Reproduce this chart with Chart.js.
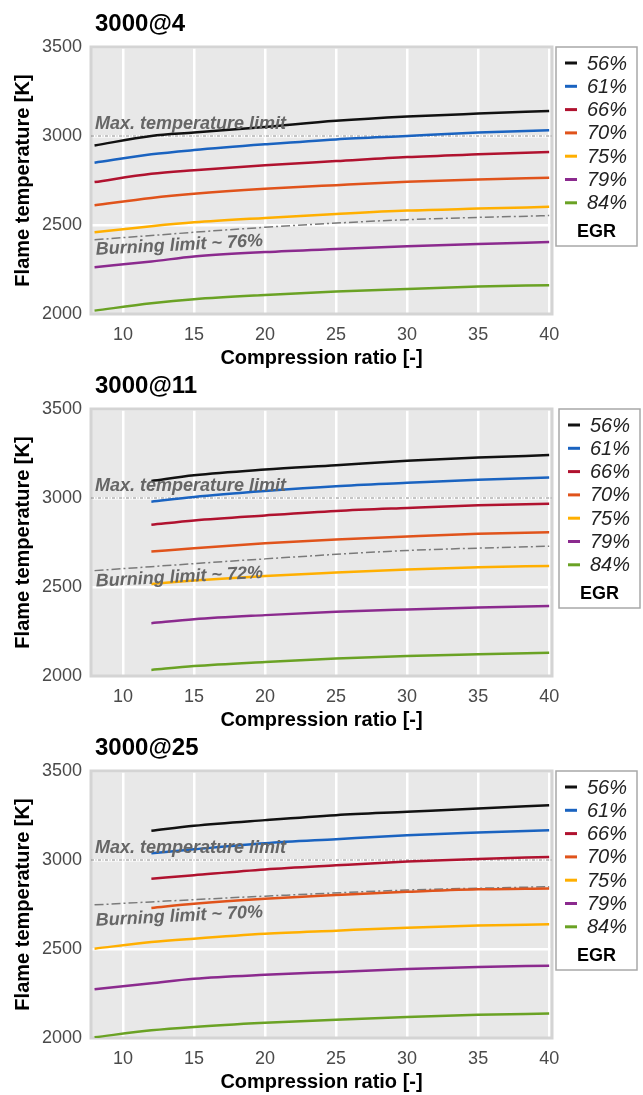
<!DOCTYPE html>
<html>
<head>
<meta charset="utf-8">
<script src="https://cdn.jsdelivr.net/npm/chart.js@4/dist/chart.umd.min.js"></script>
<style>
  body { margin: 0; background: #fff; width: 643px; height: 1095px; position: relative; overflow: hidden; }
  canvas { position: absolute; left: 0; }
</style>
</head>
<body>
<canvas id="c4" width="643" height="371" style="top:0px"></canvas>
<canvas id="c11" width="643" height="371" style="top:362px"></canvas>
<canvas id="c25" width="643" height="371" style="top:724px"></canvas>
<script>
// EGR series, colours and axis ticks
var egrLabels = ['56%', '61%', '66%', '70%', '75%', '79%', '84%'];
var egrColors = ['#111111', '#1a63c0', '#b0122f', '#e0531b', '#ffaf00', '#8b2a8e', '#6aa224'];
var xTicks = [10, 15, 20, 25, 30, 35, 40];
var yTicks = [2000, 2500, 3000, 3500];
var crFull = [8, 12, 15, 20, 25, 30, 35, 40];
var crShort = [12, 15, 20, 25, 30, 35, 40];
var burnCR = [8, 20, 30, 40];
var maxTempLimit = 3000;

// 3000@4
var t4_56 = [2947, 3000, 3019, 3051, 3085, 3109, 3126, 3141];
var t4_61 = [2850, 2897, 2921, 2953, 2981, 3000, 3019, 3032];
var t4_66 = [2741, 2788, 2808, 2836, 2859, 2882, 2897, 2910];
var t4_70 = [2611, 2652, 2675, 2703, 2724, 2743, 2756, 2765];
var t4_75 = [2459, 2493, 2515, 2540, 2562, 2581, 2592, 2602];
var t4_79 = [2263, 2295, 2323, 2348, 2365, 2380, 2393, 2404];
var t4_84 = [2019, 2060, 2083, 2107, 2126, 2141, 2154, 2162];
var burn4 = [2417, 2487, 2530, 2553];

// 3000@11
var t11_56 = [3096, 3128, 3160, 3184, 3209, 3227, 3241];
var t11_61 = [2979, 3006, 3039, 3066, 3085, 3103, 3115];
var t11_66 = [2850, 2874, 2902, 2927, 2944, 2959, 2968];
var t11_70 = [2699, 2718, 2746, 2767, 2784, 2799, 2808];
var t11_75 = [2517, 2536, 2562, 2581, 2598, 2611, 2618];
var t11_79 = [2297, 2319, 2342, 2361, 2374, 2385, 2393];
var t11_84 = [2034, 2056, 2079, 2098, 2113, 2122, 2130];
var burn11 = [2592, 2658, 2705, 2729];

// 3000@25
var t25_56 = [3164, 3192, 3224, 3252, 3271, 3290, 3308];
var t25_61 = [3038, 3060, 3094, 3117, 3139, 3154, 3167];
var t25_66 = [2895, 2915, 2947, 2970, 2991, 3006, 3017];
var t25_70 = [2731, 2754, 2782, 2803, 2821, 2835, 2840];
var t25_75 = [2502, 2539, 2558, 2585, 2603, 2620, 2632, 2639];
var t25_79 = [2274, 2308, 2333, 2355, 2371, 2387, 2399, 2406];
var t25_84 = [2004, 2043, 2062, 2085, 2103, 2118, 2130, 2137];
var burn25 = [2748, 2797, 2831, 2850];

var FONT = '"Liberation Sans", Arial, sans-serif';

function pts(xs, ys) {
    return ys.map(function (y, i) { return { x: xs[i], y: y }; });
}

// draws frame, title, limit lines, annotations and the boxed legend
var panelDecor = {
    id: 'panelDecor',
    beforeDraw: function (chart) {
        var a = chart.chartArea, ctx = chart.ctx;
        ctx.save();
        ctx.fillStyle = '#e8e8e8';
        ctx.fillRect(a.left, a.top, a.right - a.left, a.bottom - a.top);
        ctx.restore();
    },
    beforeDatasetsDraw: function (chart) {
        var a = chart.chartArea, ctx = chart.ctx;
        var y = chart.scales.y.getPixelForValue(maxTempLimit);
        ctx.save();
        ctx.strokeStyle = '#d4d4d4';
        ctx.lineWidth = 3;
        ctx.strokeRect(a.left, a.top, a.right - a.left, a.bottom - a.top);
        ctx.strokeStyle = '#8a8a8a';
        ctx.lineWidth = 1;
        ctx.setLineDash([3, 1.5, 1, 1.5]);
        ctx.beginPath();
        ctx.moveTo(a.left, y);
        ctx.lineTo(a.right, y);
        ctx.stroke();
        ctx.restore();
    },
    afterDatasetsDraw: function (chart) {
        var a = chart.chartArea, ctx = chart.ctx, o = chart.options.plugins.panelDecor;
        var yMax = chart.scales.y.getPixelForValue(maxTempLimit);
        var yBurn = chart.scales.y.getPixelForValue(o.burnStart);
        ctx.save();
        ctx.fillStyle = '#666666';
        ctx.font = 'italic bold 18px ' + FONT;
        ctx.textBaseline = 'alphabetic';
        ctx.fillText('Max. temperature limit', a.left + 4, yMax - 7);
        ctx.translate(a.left + 5, yBurn + o.burnOffset);
        ctx.rotate(-3 * Math.PI / 180);
        ctx.fillText(o.burnLabel, 0, 0);
        ctx.restore();
    },
    afterDraw: function (chart) {
        var ctx = chart.ctx, o = chart.options.plugins.panelDecor, a = chart.chartArea;
        ctx.save();
        // panel title
        ctx.fillStyle = '#000';
        ctx.font = 'bold 24px ' + FONT;
        ctx.textBaseline = 'alphabetic';
        ctx.fillText(o.title, 95, 31);
        // legend box
        var lx = o.legendX, ly = a.top, lw = 81, lh = 199;
        ctx.fillStyle = '#fff';
        ctx.fillRect(lx, ly, lw, lh);
        ctx.strokeStyle = '#a8a8a8';
        ctx.lineWidth = 1.5;
        ctx.strokeRect(lx, ly, lw, lh);
        ctx.textBaseline = 'middle';
        chart.data.datasets.forEach(function (ds, i) {
            if (i >= egrLabels.length) return;
            var ry = ly + 16 + i * 23.3;
            ctx.strokeStyle = ds.borderColor;
            ctx.lineWidth = 3;
            ctx.beginPath();
            ctx.moveTo(lx + 9, ry);
            ctx.lineTo(lx + 21, ry);
            ctx.stroke();
            ctx.fillStyle = '#222';
            ctx.font = 'italic 20px ' + FONT;
            ctx.fillText(ds.label, lx + 31, ry + 1);
        });
        ctx.fillStyle = '#000';
        ctx.font = 'bold 18px ' + FONT;
        ctx.textAlign = 'center';
        ctx.fillText('EGR', lx + lw / 2, ly + 185);
        ctx.restore();
    }
};

function makePanel(id, title, xsList, ysList, burnY, burnLabel, legendX, burnOffset) {
    var datasets = ysList.map(function (ys, i) {
        return {
            label: egrLabels[i],
            data: pts(xsList[i], ys),
            borderColor: egrColors[i],
            borderWidth: 2.5,
            pointRadius: 0,
            fill: false,
            cubicInterpolationMode: 'monotone'
        };
    });
    datasets.push({
        label: 'Burning limit',
        data: pts(burnCR, burnY),
        borderColor: '#7a7a7a',
        borderWidth: 1.5,
        borderDash: [9, 3, 2, 3],
        pointRadius: 0,
        fill: false,
        cubicInterpolationMode: 'monotone'
    });

    new Chart(document.getElementById(id), {
        type: 'line',
        data: { datasets: datasets },
        plugins: [panelDecor],
        options: {
            responsive: false,
            animation: false,
            layout: { padding: { top: 47, right: 91, bottom: 1, left: 0 } },
            plugins: {
                legend: { display: false },
                tooltip: { enabled: false },
                panelDecor: {
                    title: title,
                    burnLabel: burnLabel,
                    burnStart: burnY[0],
                    burnOffset: burnOffset,
                    legendX: legendX
                }
            },
            scales: {
                x: {
                    type: 'linear',
                    min: 7.75,
                    max: 40.2,
                    afterFit: function (s) { s.height = 56; },
                    afterBuildTicks: function (s) { s.ticks = xTicks.map(function (v) { return { value: v }; }); },
                    grid: { color: '#ffffff', lineWidth: 2.5, drawTicks: false },
                    border: { display: false },
                    ticks: { color: '#4a4a4a', font: { family: FONT, size: 18 }, padding: 10, maxRotation: 0,
                             callback: function (v) { return String(v); } },
                    title: { display: true, text: 'Compression ratio [-]', color: '#000', font: { family: FONT, size: 20, weight: 'bold' }, padding: { top: 0, bottom: 0 } }
                },
                y: {
                    min: 2000,
                    max: 3500,
                    afterFit: function (s) { s.width = 91; },
                    afterBuildTicks: function (s) { s.ticks = yTicks.map(function (v) { return { value: v }; }); },
                    grid: { color: '#ffffff', lineWidth: 2.5, drawTicks: false },
                    border: { display: false },
                    ticks: { color: '#4a4a4a', font: { family: FONT, size: 18 }, padding: 9,
                             callback: function (v) { return String(v); } },
                    title: { display: true, text: 'Flame temperature [K]', color: '#000', font: { family: FONT, size: 20, weight: 'bold' }, padding: { top: 11, bottom: 0 } }
                }
            }
        }
    });
}

makePanel('c4', '3000@4',
    [crFull, crFull, crFull, crFull, crFull, crFull, crFull],
    [t4_56, t4_61, t4_66, t4_70, t4_75, t4_79, t4_84],
    burn4, 'Burning limit ~ 76%', 556, 15);

makePanel('c11', '3000@11',
    [crShort, crShort, crShort, crShort, crShort, crShort, crShort],
    [t11_56, t11_61, t11_66, t11_70, t11_75, t11_79, t11_84],
    burn11, 'Burning limit ~ 72%', 559, 16);

makePanel('c25', '3000@25',
    [crShort, crShort, crShort, crShort, crFull, crFull, crFull],
    [t25_56, t25_61, t25_66, t25_70, t25_75, t25_79, t25_84],
    burn25, 'Burning limit ~ 70%', 556, 21);
</script>
</body>
</html>
